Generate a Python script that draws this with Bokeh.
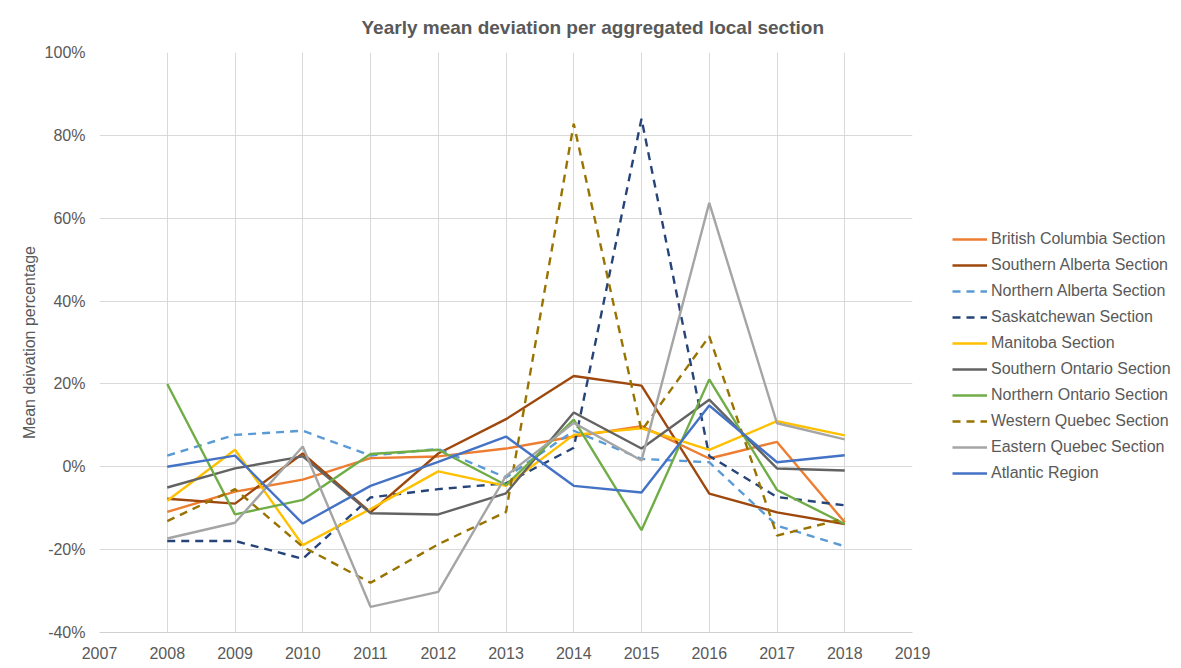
from bokeh.plotting import figure
from bokeh.models import Legend, LegendItem, FixedTicker, PrintfTickFormatter, Range1d
from bokeh.embed import file_html
from bokeh.resources import INLINE

years = [2008, 2009, 2010, 2011, 2012, 2013, 2014, 2015, 2016, 2017, 2018]

british_columbia = [-10.9, -6.0, -3.1, 2.1, 2.5, 4.4, 7.3, 9.8, 2.0, 6.0, -13.4]
southern_alberta = [-7.7, -8.9, 3.2, -11.0, 3.2, 11.5, 21.9, 19.6, -6.5, -11.0, -13.8]
northern_alberta = [2.7, 7.7, 8.7, 2.7, 4.3, -2.6, 8.7, 1.9, 1.1, -14.2, -19.2]
saskatchewan = [-17.9, -17.9, -22.2, -7.4, -5.4, -4.0, 4.6, 84.0, 2.6, -7.3, -9.3]
manitoba = [-8.2, 4.1, -18.9, -10.2, -1.1, -4.6, 7.7, 9.3, 4.1, 11.0, 7.6]
southern_ontario = [-5.0, -0.4, 2.5, -11.2, -11.5, -6.4, 13.1, 4.4, 16.2, -0.4, -0.9]
northern_ontario = [20.0, -11.5, -8.0, 3.1, 4.1, -4.4, 11.4, -15.3, 21.1, -5.6, -13.8]
western_quebec = [-13.1, -5.4, -19.3, -28.0, -18.7, -10.9, 82.8, 8.7, 31.5, -16.6, -12.5]
eastern_quebec = [-17.3, -13.5, 4.9, -33.8, -30.2, -2.2, 10.6, 1.5, 63.7, 10.5, 6.6]
atlantic = [0.0, 2.7, -13.7, -4.6, 1.2, 7.3, -4.6, -6.2, 14.8, 1.1, 2.8]

series_names = [
    "British Columbia Section", "Southern Alberta Section", "Northern Alberta Section",
    "Saskatchewan Section", "Manitoba Section", "Southern Ontario Section",
    "Northern Ontario Section", "Western Quebec Section", "Eastern Quebec Section",
    "Atlantic Region",
]
series_values = [british_columbia, southern_alberta, northern_alberta, saskatchewan,
                 manitoba, southern_ontario, northern_ontario, western_quebec,
                 eastern_quebec, atlantic]
colors = ["#ED7D31", "#9E480E", "#5B9BD5", "#264478", "#FFC000", "#636363",
          "#70AD47", "#997300", "#A5A5A5", "#4472C4"]
dashed = [False, False, True, True, False, False, False, True, False, False]

x_ticks = list(range(2007, 2020))
y_ticks = list(range(-40, 101, 20))

TEXT = "#595959"
FONT = "Liberation Sans"

p = figure(frame_width=813, frame_height=580, output_backend="svg", toolbar_location=None,
           x_range=Range1d(2007, 2019), y_range=Range1d(-40, 100),
           min_border_left=99, min_border_right=0, min_border_top=52, min_border_bottom=31,
           title="Yearly mean deviation per aggregated local section")
p.outline_line_color = None
p.background_fill_color = "white"
p.border_fill_color = "white"

p.title.text_font = FONT
p.title.text_font_size = "19px"
p.title.text_font_style = "bold"
p.title.text_color = TEXT
p.title.align = "left"
p.title.offset = 262
p.title.standoff = 29

p.xaxis.ticker = FixedTicker(ticks=x_ticks)
p.yaxis.ticker = FixedTicker(ticks=y_ticks)
p.yaxis.formatter = PrintfTickFormatter(format="%d%%")
for ax in (p.xaxis, p.yaxis):
    ax.major_tick_line_color = None
    ax.minor_tick_line_color = None
    ax.major_label_text_font = FONT
    ax.major_label_text_font_size = "16px"
    ax.major_label_text_color = TEXT
p.yaxis.axis_line_color = None
p.xaxis.axis_line_color = "#D0D0D0"
p.xaxis.axis_line_width = 1
p.xaxis.major_label_standoff = 8
p.yaxis.major_label_standoff = 8
p.yaxis.axis_label = "Mean deivation percentage"
p.yaxis.axis_label_text_font = FONT
p.yaxis.axis_label_text_font_size = "16px"
p.yaxis.axis_label_text_font_style = "normal"
p.yaxis.axis_label_text_color = TEXT
p.yaxis.axis_label_standoff = 4

p.xgrid.grid_line_color = "#D9D9D9"
p.ygrid.grid_line_color = "#D9D9D9"
p.xgrid.grid_line_width = 1
p.ygrid.grid_line_width = 1

items = []
for name, vals, col, d in zip(series_names, series_values, colors, dashed):
    r = p.line(years, vals, line_color=col, line_width=2.4,
               line_dash="8 6" if d else "solid")
    items.append(LegendItem(label=name, renderers=[r]))

legend = Legend(items=items, location=(40, 149))
legend.border_line_color = None
legend.background_fill_alpha = 0
legend.label_text_font = FONT
legend.label_text_font_size = "16px"
legend.label_text_color = TEXT
legend.glyph_width = 35
legend.glyph_height = 20
legend.label_height = 20
legend.label_standoff = 4
legend.spacing = 6
legend.padding = 0
legend.margin = 0
p.add_layout(legend, "right")

open("out.html", "w").write(file_html(p, INLINE))
